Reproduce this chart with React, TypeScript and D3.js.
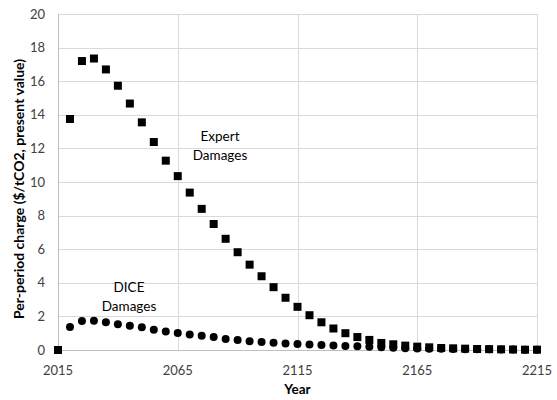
import React, { useEffect, useRef } from 'react';
import * as d3 from 'd3';

// Years every 5 years from 2015 to 2215
const years = d3.range(2015, 2216, 5);

// Expert damages per-period charge ($/tCO2, present value)
const expertValues = [
  0, 13.75, 17.2, 17.35, 16.7, 15.73, 14.67, 13.55, 12.38, 11.27,
  10.35, 9.37, 8.4, 7.5, 6.62, 5.82, 5.08, 4.39, 3.74, 3.11,
  2.57, 2.07, 1.65, 1.28, 1.0, 0.77, 0.6, 0.42, 0.34, 0.26,
  0.2, 0.16, 0.12, 0.1, 0.08, 0.06, 0.05, 0.04, 0.03, 0.02, 0.02
];

// DICE damages
const diceValues = [
  0, 1.37, 1.72, 1.74, 1.65, 1.54, 1.45, 1.35, 1.2, 1.1,
  1.01, 0.93, 0.85, 0.77, 0.66, 0.6, 0.52, 0.47, 0.43, 0.39,
  0.35, 0.33, 0.3, 0.27, 0.24, 0.22, 0.19, 0.16, 0.13, 0.11,
  0.09, 0.08, 0.07, 0.06, 0.05, 0.04, 0.04, 0.03, 0.03, 0.02, 0.02
];

const xTicks = [2015, 2065, 2115, 2165, 2215];
const yTicks = d3.range(0, 21, 2);

const FONT = 'Lato, "Open Sans", sans-serif';

const App = () => {
  const svgRef = useRef<SVGSVGElement | null>(null);

  useEffect(() => {
    const svg = d3.select(svgRef.current);
    svg.selectAll('*').remove();

    const width = 557;
    const height = 400;
    const margin = { top: 14, right: 20, bottom: 50, left: 58 };

    const x = d3.scaleLinear()
      .domain([2015, 2215])
      .range([margin.left, width - margin.right]);
    const y = d3.scaleLinear()
      .domain([0, 20])
      .range([height - margin.bottom, margin.top]);

    svg.append('rect')
      .attr('width', width)
      .attr('height', height)
      .attr('fill', '#ffffff');

    // gridlines
    svg.append('g')
      .selectAll('line')
      .data(yTicks)
      .enter().append('line')
      .attr('x1', margin.left)
      .attr('x2', width - margin.right)
      .attr('y1', d => Math.round(y(d)) + 0.5)
      .attr('y2', d => Math.round(y(d)) + 0.5)
      .attr('stroke', '#d9d9d9')
      .attr('stroke-width', 1);

    svg.append('g')
      .selectAll('line')
      .data(xTicks)
      .enter().append('line')
      .attr('x1', d => Math.round(x(d)) + 0.5)
      .attr('x2', d => Math.round(x(d)) + 0.5)
      .attr('y1', margin.top)
      .attr('y2', height - margin.bottom)
      .attr('stroke', '#d9d9d9')
      .attr('stroke-width', 1);

    // axis lines
    svg.append('line')
      .attr('x1', margin.left)
      .attr('x2', width - margin.right)
      .attr('y1', Math.round(y(0)) + 0.5)
      .attr('y2', Math.round(y(0)) + 0.5)
      .attr('stroke', '#bfbfbf');
    svg.append('line')
      .attr('x1', Math.round(x(2015)) + 0.5)
      .attr('x2', Math.round(x(2015)) + 0.5)
      .attr('y1', margin.top)
      .attr('y2', height - margin.bottom)
      .attr('stroke', '#bfbfbf');

    // tick labels
    svg.append('g')
      .selectAll('text')
      .data(yTicks)
      .enter().append('text')
      .attr('x', margin.left - 13)
      .attr('y', d => y(d))
      .attr('dy', '0.35em')
      .attr('text-anchor', 'end')
      .style('font-family', FONT)
      .style('font-size', '13px')
      .style('fill', '#404040')
      .text(d => d);

    svg.append('g')
      .selectAll('text')
      .data(xTicks)
      .enter().append('text')
      .attr('x', d => x(d))
      .attr('y', height - margin.bottom + 25)
      .attr('text-anchor', 'middle')
      .style('font-family', FONT)
      .style('font-size', '13px')
      .style('fill', '#404040')
      .text(d => d);

    // axis titles
    svg.append('text')
      .attr('x', (margin.left + width - margin.right) / 2)
      .attr('y', 394)
      .attr('text-anchor', 'middle')
      .style('font-family', FONT)
      .style('font-size', '13.5px')
      .style('font-weight', 'bold')
      .style('fill', '#000')
      .text('Year');

    svg.append('text')
      .attr('transform', `translate(24, 189) rotate(-90)`)
      .attr('text-anchor', 'middle')
      .style('font-family', FONT)
      .style('font-size', '14px')
      .style('font-weight', 'bold')
      .style('fill', '#000')
      .text('Per-period charge ($/tCO2, present value)');

    // DICE circles
    svg.append('g')
      .selectAll('circle')
      .data(years.map((yr, i) => ({ yr, v: diceValues[i] })))
      .enter().append('circle')
      .attr('cx', d => x(d.yr))
      .attr('cy', d => y(d.v))
      .attr('r', 4)
      .attr('fill', '#000');

    // Expert squares
    const s = 8;
    svg.append('g')
      .selectAll('rect')
      .data(years.map((yr, i) => ({ yr, v: expertValues[i] })))
      .enter().append('rect')
      .attr('x', d => x(d.yr) - s / 2)
      .attr('y', d => y(d.v) - s / 2)
      .attr('width', s)
      .attr('height', s)
      .attr('fill', '#000');

    // series labels
    const label = (cx: number, cy: number, lines: string[]) => {
      const t = svg.append('text')
        .attr('text-anchor', 'middle')
        .style('font-family', FONT)
        .style('font-size', '13.5px')
        .style('fill', '#000');
      lines.forEach((ln, i) => {
        t.append('tspan')
          .attr('x', cx)
          .attr('y', cy + i * 19)
          .text(ln);
      });
    };
    label(220, 141, ['Expert', 'Damages']);
    label(129, 292, ['DICE', 'Damages']);
  }, []);

  return (
    <svg
      ref={svgRef}
      width={557}
      height={400}
      style={{ position: 'absolute', left: 0, top: 0, display: 'block' }}
    />
  );
};

export default App;
